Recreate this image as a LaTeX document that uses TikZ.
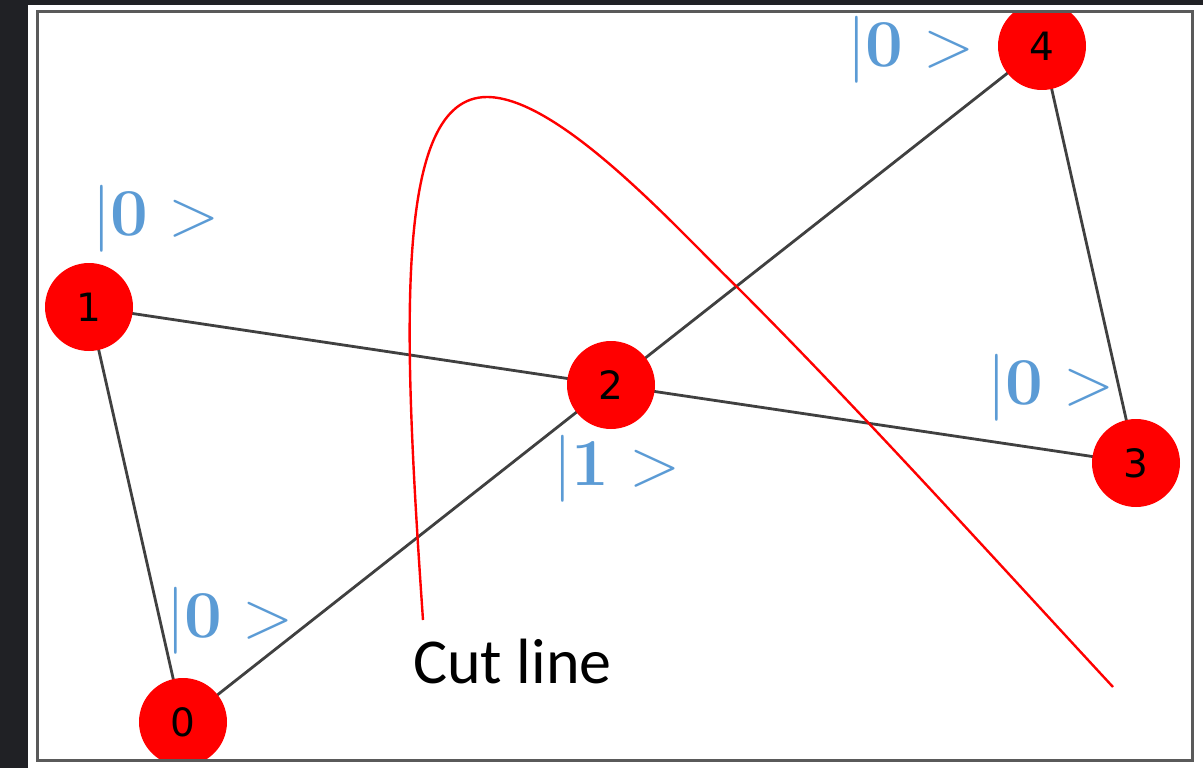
\documentclass[tikz,border=0pt]{standalone}
\usepackage{fontspec}
\newfontfamily\numfont{DejaVu Sans}
\newfontfamily\cutfont{Carlito}
\definecolor{darkbg}{HTML}{202125}
\definecolor{framegray}{HTML}{5A5A5A}
\definecolor{edgegray}{HTML}{404040}
\definecolor{qblue}{HTML}{5B9BD5}
\definecolor{vred}{HTML}{FF0000}
\newcommand{\ket}[1]{|\textbf{#1} >}
\begin{document}
\begin{tikzpicture}[x=1pt,y=-1pt,
  vert/.style={circle,fill=vred,minimum size=88pt,inner sep=0pt,
    font=\numfont\fontsize{39}{39}\selectfont,text=black},
  edge/.style={draw=edgegray,line width=2.8pt},
  qlab/.style={text=qblue,inner sep=0pt,font=\fontsize{67}{67}\selectfont},
  cutline/.style={draw=vred,line width=2.4pt},
  cutlab/.style={inner sep=0pt,anchor=base west,font=\cutfont\fontsize{64}{64}\selectfont}]
\useasboundingbox (0,0) rectangle (1203,768);
\fill[darkbg] (0,0) rectangle (1203,768);
\fill[white] (28,5) rectangle (1203,768);
\coordinate (c0) at (183,722);
\coordinate (c1) at (89,307);
\coordinate (c2) at (611,385);
\coordinate (c3) at (1136,463);
\coordinate (c4) at (1042,46);
\begin{scope}
\clip (37,12) rectangle (1192,760);
\draw[edge] (c1) -- (c2);
\draw[edge] (c2) -- (c3);
\draw[edge] (c0) -- (c2);
\draw[edge] (c2) -- (c4);
\draw[edge] (c0) -- (c1);
\draw[edge] (c3) -- (c4);
\node[vert] (n0) at (c0) {0};
\node[vert] (n1) at (c1) {1};
\node[vert] (n2) at (c2) {2};
\node[vert] (n3) at (c3) {3};
\node[vert] (n4) at (c4) {4};
\end{scope}
\draw[framegray,line width=3pt] (37,12) rectangle (1192,760);
\node[qlab] (q1) at (156,219) {\ket{0}};
\node[qlab] (q4) at (911,50) {\ket{0}};
\node[qlab] (q3) at (1051,388) {\ket{0}};
\node[qlab] (q2) at (617,469) {\ket{1}};
\node[qlab] (q0) at (230,621) {\ket{0}};
\draw[cutline] (423,620) .. controls (403,330) and (393,97) .. (487,97)
  .. controls (560,97) and (680,232) .. (737,287)
  .. controls (860,410) and (1000,565) .. (1113,687);
\node[cutlab] (cut) at (413,683) {Cut line};
\end{tikzpicture}
\end{document}
